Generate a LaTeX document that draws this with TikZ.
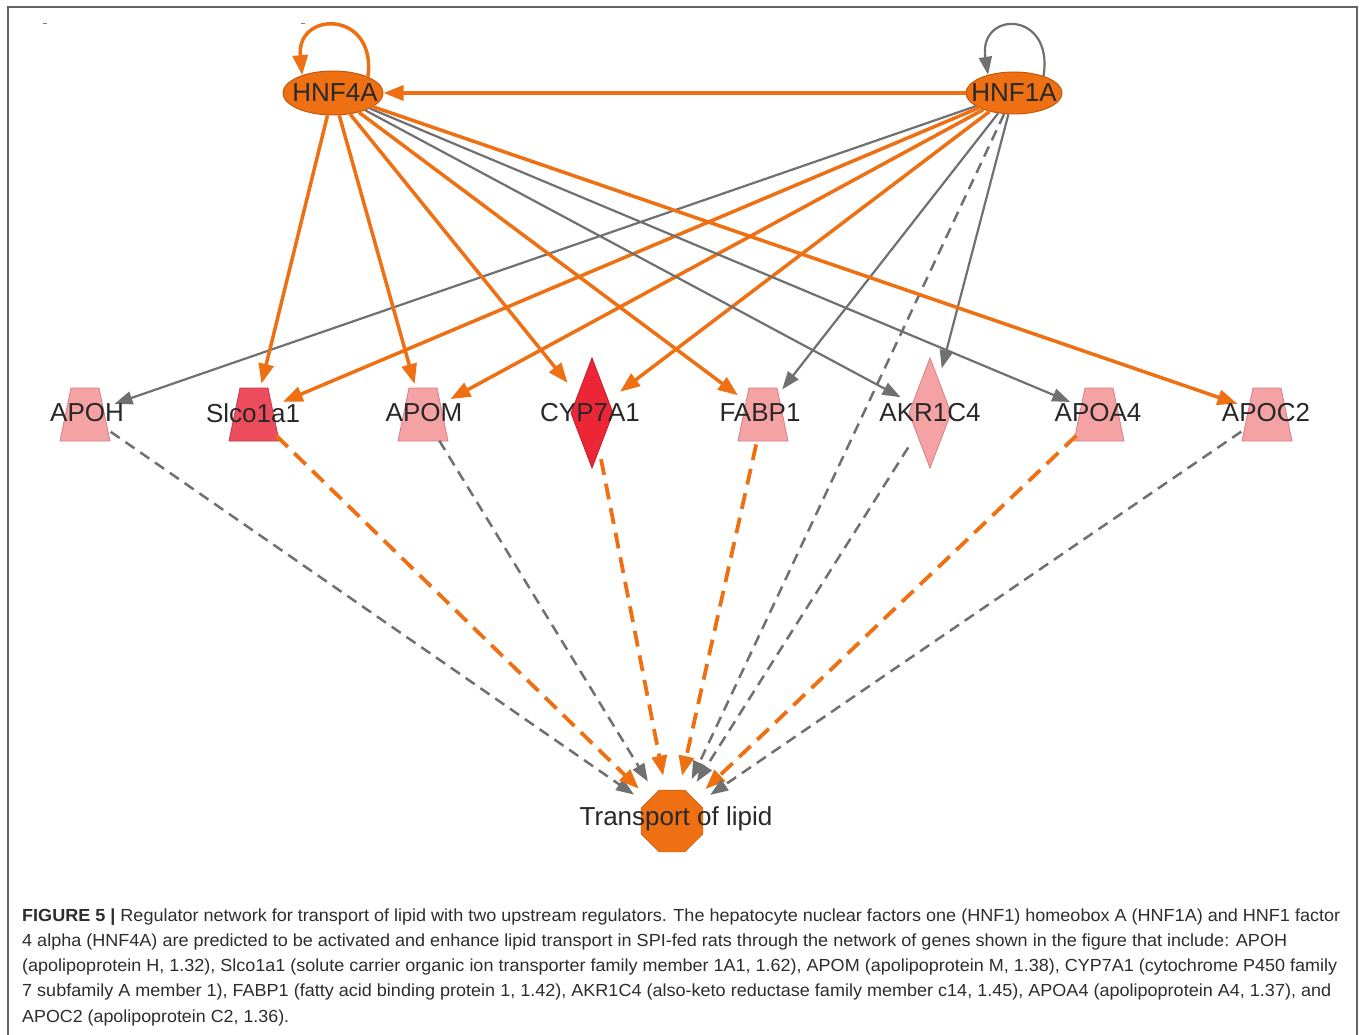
\documentclass[tikz,border=0pt]{standalone}
\usepackage{fontspec}
\setmainfont{Liberation Sans}
\usepackage{graphicx}
\usetikzlibrary{arrows.meta,shapes.geometric}
\definecolor{ora}{RGB}{238,112,18}
\definecolor{oradark}{RGB}{196,88,10}
\definecolor{gry}{RGB}{112,112,112}
\definecolor{pinkf}{RGB}{244,162,164}
\definecolor{pinkd}{RGB}{212,128,132}
\definecolor{redm}{RGB}{236,76,92}
\definecolor{redmd}{RGB}{200,60,72}
\definecolor{redd}{RGB}{236,38,54}
\definecolor{reddd}{RGB}{196,30,44}
\definecolor{lbltext}{RGB}{40,40,40}
\definecolor{captext}{RGB}{45,45,45}
\definecolor{framecol}{RGB}{100,100,100}
\newcommand\trapz[3]{\filldraw[fill=#2,draw=#3,line width=0.8pt] (#1-25,441) -- (#1+25,441) -- (#1+14,388) -- (#1-14,388) -- cycle;}
\newcommand\diamz[3]{\filldraw[fill=#2,draw=#3,line width=0.8pt] (#1,358) -- (#1+21,413) -- (#1,468) -- (#1-21,413) -- cycle;}
\newcommand\capline[2]{\resizebox{#1pt}{\height}{#2}}
\tikzset{
  anc/.style={ellipse, minimum width=62pt, minimum height=62pt, inner sep=0pt},
  ancd/.style={anc, minimum height=96pt},
  lbl/.style={font=\fontsize{26}{26}\selectfont, text=lbltext, inner sep=0pt},
  regnode/.style={ellipse, fill=ora, draw=oradark, line width=1pt, inner sep=0pt},
  oe/.style={draw=ora, line width=3.5pt, -{Triangle[length=20pt,width=15pt]}, ora},
  ge/.style={draw=gry, line width=2.2pt, -{Triangle[length=18pt,width=13pt]}, gry},
  od/.style={oe, line width=3.8pt, dash pattern=on 16pt off 9pt},
  gd/.style={ge, line width=2.5pt, dash pattern=on 11pt off 7pt},
  capt/.style={anchor=base west, inner sep=0pt, font=\fontsize{17.5}{20}\selectfont, text=captext},
}
\begin{document}
\begin{tikzpicture}[x=1pt,y=-1pt]
\useasboundingbox (0,0) rectangle (1360,1035);
\fill[white] (0,0) rectangle (1360,1035);
\draw[framecol, line width=1.5pt] (8,1035) -- (8,7) -- (1357,7) -- (1357,1035);
\draw[gray, line width=1pt] (43,24) -- (47,24);
\draw[gray, line width=1pt] (301,24) -- (305,24);

% shapes
\trapz{85}{pinkf}{pinkd}
\trapz{254}{redm}{redmd}
\trapz{423}{pinkf}{pinkd}
\diamz{592}{redd}{reddd}
\trapz{763}{pinkf}{pinkd}
\diamz{930}{pinkf}{pinkd}
\trapz{1099}{pinkf}{pinkd}
\trapz{1267}{pinkf}{pinkd}

\node[regnode, minimum width=100pt, minimum height=44pt] (hnf4a) at (333,93) {};
\node[regnode, minimum width=96pt, minimum height=42pt] (hnf1a) at (1014,93) {};
\node[regular polygon, regular polygon sides=8, minimum size=67pt, inner sep=0pt, fill=ora, draw=oradark] (toloct) at (672,821) {};

% anchor nodes
\node[anc] (apoh) at (85,414) {};
\node[anc] (slco) at (254,414) {};
\node[anc] (apom) at (423,414) {};
\node[ancd] (cyp) at (592,413) {};
\node[anc] (fabp) at (763,414) {};
\node[ancd] (akr) at (930,413) {};
\node[anc] (apoa4) at (1099,414) {};
\node[anc] (apoc2) at (1267,414) {};
\node[circle, minimum size=92pt, inner sep=0pt] (tol) at (672,821) {};

% edges from HNF1A
\draw[oe] (hnf1a) -- (hnf4a);
\draw[ge] (hnf1a.30) .. controls (1054,10) and (978,10) .. (hnf1a.145);
\draw[ge] (hnf1a) -- (apoh);
\draw[oe] (hnf1a) -- (slco);
\draw[oe] (hnf1a) -- (apom);
\draw[oe] (hnf1a) -- (cyp);
\draw[ge] (hnf1a) -- (fabp);
\draw[ge] (hnf1a) -- (akr);
\draw[gd] (hnf1a) -- (tol);

% edges from HNF4A
\draw[oe] (hnf4a.25) .. controls (377,10) and (296,10) .. (hnf4a.150);
\draw[oe] (hnf4a) -- (slco);
\draw[oe] (hnf4a) -- (apom);
\draw[oe] (hnf4a) -- (cyp);
\draw[oe] (hnf4a) -- (fabp);
\draw[ge] (hnf4a) -- (akr);
\draw[ge] (hnf4a) -- (apoa4);
\draw[oe] (hnf4a) -- (apoc2);

% genes to transport
\draw[gd] (apoh) -- (tol);
\draw[od] (slco) -- (tol);
\draw[gd] (apom) -- (tol);
\draw[od] (cyp) -- (tol);
\draw[od] (fabp) -- (tol);
\draw[gd] (akr) -- (tol);
\draw[od] (apoa4) -- (tol);
\draw[gd] (apoc2) -- (tol);

% labels
\node[lbl] (hnf4aL) at (335,93) {HNF4A};
\node[lbl] (hnf1aL) at (1014,93) {HNF1A};
\node[lbl] (apohL) at (87,413) {APOH};
\node[lbl] (slcoL) at (253,413) {Slco1a1};
\node[lbl] (apomL) at (424,413) {APOM};
\node[lbl] (cypL) at (590,413) {CYP7A1};
\node[lbl] (fabpL) at (760,413) {FABP1};
\node[lbl] (akrL) at (930,413) {AKR1C4};
\node[lbl] (apoa4L) at (1098,413) {APOA4};
\node[lbl] (apoc2L) at (1266,413) {APOC2};
\node[lbl] (tolL) at (676,819) {Transport of lipid};

% caption
\node[capt] (cap1) at (22,921) {\capline{1318}{\textbf{FIGURE 5 |} Regulator network for transport of lipid with two upstream regulators. The hepatocyte nuclear factors one (HNF1) homeobox A (HNF1A) and HNF1 factor}};
\node[capt] (cap2) at (22,946.3) {\capline{1265}{4 alpha (HNF4A) are predicted to be activated and enhance lipid transport in SPI-fed rats through the network of genes shown in the figure that include: APOH}};
\node[capt] (cap3) at (22,971.6) {\capline{1315}{(apolipoprotein H, 1.32), Slco1a1 (solute carrier organic ion transporter family member 1A1, 1.62), APOM (apolipoprotein M, 1.38), CYP7A1 (cytochrome P450 family}};
\node[capt] (cap4) at (22,996.9) {\capline{1309}{7 subfamily A member 1), FABP1 (fatty acid binding protein 1, 1.42), AKR1C4 (also-keto reductase family member c14, 1.45), APOA4 (apolipoprotein A4, 1.37), and}};
\node[capt] (cap5) at (22,1022.2) {\capline{267}{APOC2 (apolipoprotein C2, 1.36).}};
\end{tikzpicture}
\end{document}
